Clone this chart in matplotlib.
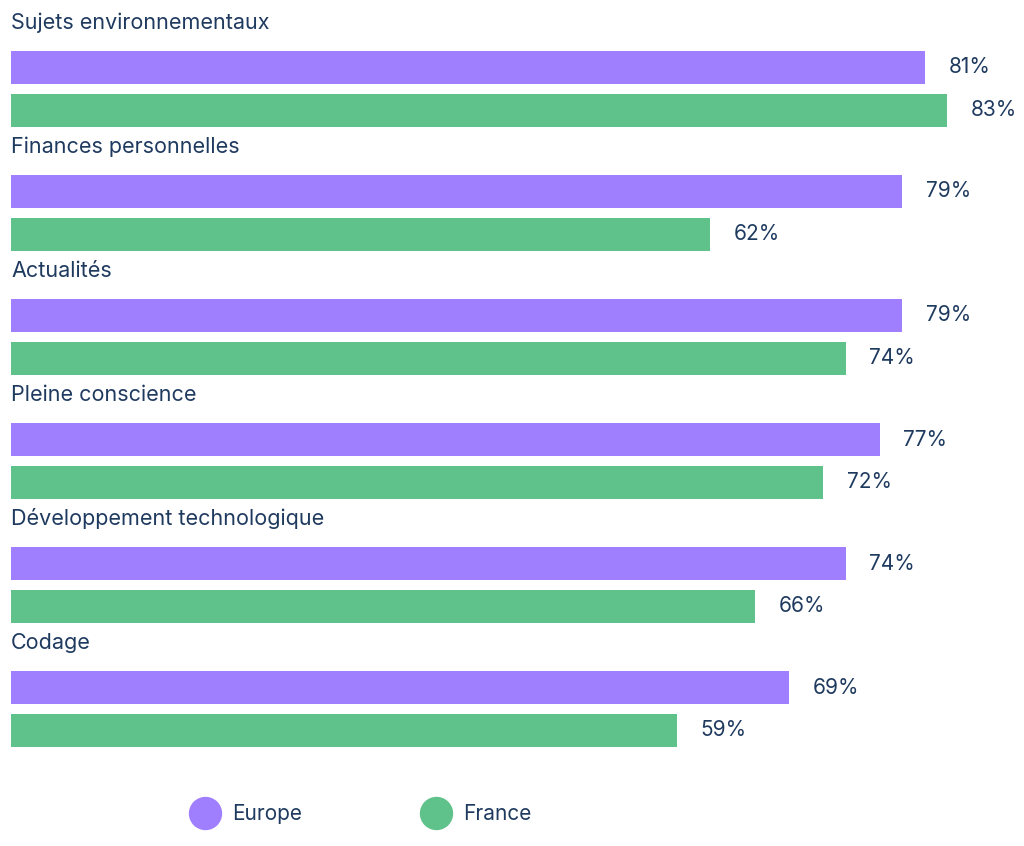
import matplotlib.pyplot as plt
from matplotlib.lines import Line2D

plt.rcParams['font.family'] = ['Inter', 'DejaVu Sans']

categories = ['Sujets environnementaux', 'Finances personnelles', 'Actualités',
              'Pleine conscience', 'Développement technologique', 'Codage']
europe = [81, 79, 79, 77, 74, 69]
france = [83, 62, 74, 72, 66, 59]

purple = '#a07fff'
green = '#5fc28a'
txt = '#1f3a5f'

fig = plt.figure(figsize=(10.24, 8.46), dpi=100)
ax = fig.add_axes([11 / 1024, 0, 1013 / 1024, 1])
ax.set_xlim(0, 1013 / 11.28)
ax.set_ylim(846 / 124 - 67.5 / 124, -67.5 / 124)
ax.axis('off')

h = 33 / 124
off = 43 / 124
for i, cat in enumerate(categories):
    ax.barh(i, europe[i], height=h, color=purple)
    ax.barh(i + off, france[i], height=h, color=green)
    ax.text(europe[i] + 2.1, i, f'{europe[i]}%', va='center', ha='left',
            fontsize=15, color=txt)
    ax.text(france[i] + 2.1, i + off, f'{france[i]}%', va='center', ha='left',
            fontsize=15, color=txt)
    ax.text(0, i - 0.36, cat, va='center', ha='left', fontsize=15.5, color=txt)

handles = [Line2D([], [], marker='o', ls='', ms=23, color=purple, label='Europe'),
           Line2D([], [], marker='o', ls='', ms=23, color=green, label='France')]
fig.legend(handles=handles, loc='center', bbox_to_anchor=(358 / 1024, 1 - 814 / 846),
           ncol=2, frameon=False, fontsize=15, labelcolor=txt,
           columnspacing=5.4, handletextpad=0.3)

fig.savefig('out.png', dpi=100)
